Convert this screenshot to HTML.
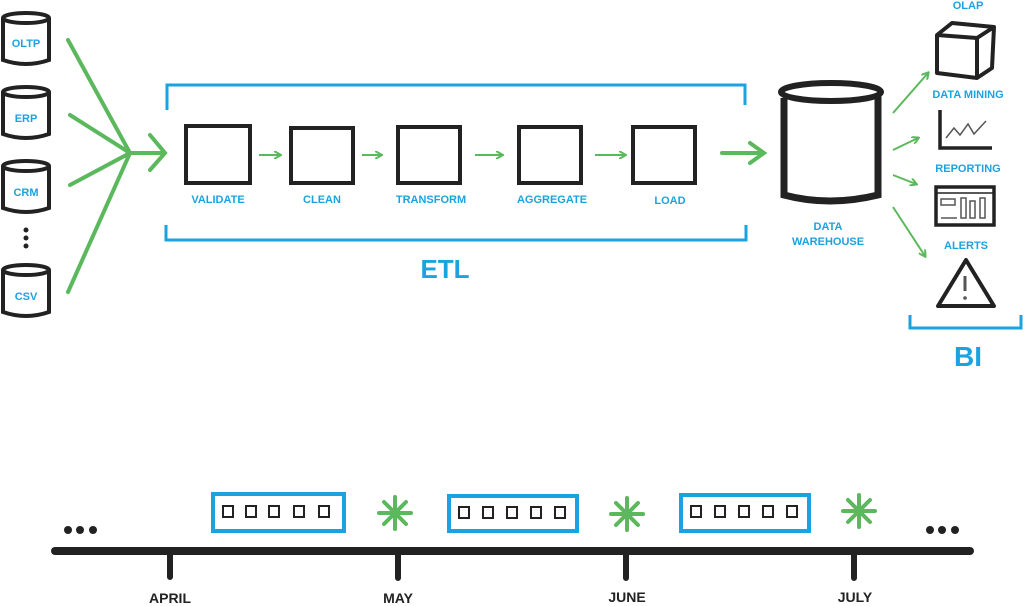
<!DOCTYPE html>
<html><head><meta charset="utf-8"><style>
html,body{margin:0;padding:0;background:#fff;}
svg{display:block}
text{font-family:"Liberation Sans",sans-serif;font-weight:bold;}
.b{fill:#1ba3e0;font-size:11px;text-anchor:middle;}
.k{fill:#222;font-size:14px;text-anchor:middle;}
</style></head><body>
<svg width="1024" height="606" viewBox="0 0 1024 606" xmlns="http://www.w3.org/2000/svg">
<defs>
<g id="cyl"><path d="M3,8 v42 q23,8 46,0 v-42" fill="#fff" stroke="#222" stroke-width="4"/><ellipse cx="26" cy="8" rx="23" ry="5" fill="#fff" stroke="#222" stroke-width="4"/></g>
<marker id="ah" markerWidth="8" markerHeight="8" refX="6" refY="4" orient="auto" markerUnits="userSpaceOnUse"><path d="M0,0 L7,4 L0,8" fill="none" stroke="#5cb85c" stroke-width="2"/></marker>
</defs>
<!-- sources -->
<use href="#cyl" x="0" y="10"/><text class="b" x="26" y="47">OLTP</text>
<use href="#cyl" x="0" y="84"/><text class="b" x="26" y="122">ERP</text>
<use href="#cyl" x="0" y="158"/><text class="b" x="26" y="196">CRM</text>
<circle cx="26" cy="230" r="2.5" fill="#222"/><circle cx="26" cy="238" r="2.5" fill="#222"/><circle cx="26" cy="246" r="2.5" fill="#222"/>
<use href="#cyl" x="0" y="262"/><text class="b" x="26" y="300">CSV</text>
<g stroke="#5cb85c" stroke-width="4" fill="none" stroke-linecap="round">
<path d="M68,40 L130,153 M70,115 L130,153 M70,185 L130,153 M68,292 L130,153 M130,153 H163 M150,135 L165,153 L150,170"/>
<path d="M722,153 H762 M750,143 L764,153 L750,163"/>
</g>
<!-- ETL bracket -->
<g stroke="#1ba3e0" stroke-width="3" fill="none">
<path d="M167,110 V85 H745 V105"/>
<path d="M166,225 V240 H746 V225"/>
</g>
<text x="445" y="278" style="fill:#1ba3e0;font-size:26px;text-anchor:middle">ETL</text>
<g stroke="#222" stroke-width="4" fill="none">
<rect x="186" y="126" width="64" height="57"/>
<rect x="291" y="128" width="62" height="55"/>
<rect x="398" y="127" width="62" height="56"/>
<rect x="519" y="127" width="62" height="56"/>
<rect x="633" y="127" width="62" height="56"/>
</g>
<g stroke="#5cb85c" stroke-width="2" fill="none" marker-end="url(#ah)">
<path d="M259,155 H280"/><path d="M362,155 H381"/><path d="M475,155 H502"/><path d="M595,155 H625"/>
</g>
<text class="b" x="218" y="203">VALIDATE</text>
<text class="b" x="322" y="203">CLEAN</text>
<text class="b" x="431" y="203">TRANSFORM</text>
<text class="b" x="552" y="203">AGGREGATE</text>
<text class="b" x="670" y="204">LOAD</text>
<!-- DW -->
<path d="M784,98 V195 q45,12 94,0 V95" fill="#fff" stroke="#222" stroke-width="7"/>
<ellipse cx="831" cy="92" rx="50" ry="9" fill="#fff" stroke="#222" stroke-width="6"/>
<text class="b" x="828" y="230">DATA</text>
<text class="b" x="828" y="245">WAREHOUSE</text>
<g stroke="#5cb85c" stroke-width="2" fill="none" marker-end="url(#ah)">
<path d="M893,113 L928,73"/><path d="M893,150 L918,138"/><path d="M893,175 L916,184"/><path d="M893,207 L925,256"/>
</g>
<!-- BI -->
<text class="b" x="968" y="9">OLAP</text>
<g stroke="#222" stroke-width="4" fill="#fff" stroke-linejoin="round">
<path d="M937,35 L952,23 L994,27 L992,68 L977,78 L937,73 Z M937,35 L977,38 L994,27 M977,38 L977,78"/>
</g>
<text class="b" x="968" y="98">DATA MINING</text>
<path d="M940,110 V148 H992" stroke="#222" stroke-width="3.5" fill="none"/>
<path d="M946,138 L954,128 L960,135 L968,124 L974,134 L986,121" stroke="#555" stroke-width="1.5" fill="none"/>
<text class="b" x="968" y="172">REPORTING</text>
<rect x="936" y="187" width="58" height="38" fill="#fff" stroke="#222" stroke-width="3.5"/>
<path d="M936,193 H994" stroke="#222" stroke-width="1.5"/>
<g stroke="#555" stroke-width="1.5" fill="none"><rect x="941" y="199" width="14" height="6"/><rect x="961" y="198" width="5" height="20"/><rect x="970" y="201" width="5" height="17"/><rect x="980" y="198" width="5" height="20"/><path d="M941,218 H957"/></g>
<text class="b" x="966" y="249">ALERTS</text>
<path d="M966,260 L994,306 H938 Z" fill="#fff" stroke="#222" stroke-width="4" stroke-linejoin="round"/>
<path d="M965,276 V291" stroke="#555" stroke-width="3"/><circle cx="965" cy="298" r="1.8" fill="#555"/>
<path d="M910,315 V328 H1021 V315" stroke="#1ba3e0" stroke-width="3" fill="none"/>
<text x="968" y="366" style="fill:#1ba3e0;font-size:28px;text-anchor:middle">BI</text>
<!-- timeline -->
<path d="M55,551 H970" stroke="#222" stroke-width="8" stroke-linecap="round"/>
<g stroke="#222" stroke-width="6" stroke-linecap="round"><path d="M170,553 V577 M398,553 V578 M626,553 V578 M854,553 V578"/></g>
<text class="k" x="170" y="603">APRIL</text><text class="k" x="398" y="603">MAY</text><text class="k" x="627" y="602">JUNE</text><text class="k" x="855" y="602">JULY</text>
<g fill="#222"><circle cx="68" cy="530" r="4"/><circle cx="80" cy="530" r="4"/><circle cx="93" cy="530" r="4"/>
<circle cx="930" cy="530" r="4"/><circle cx="942" cy="530" r="4"/><circle cx="955" cy="530" r="4"/></g>
<g fill="none" stroke="#1ba3e0" stroke-width="4">
<rect x="213" y="494" width="131" height="37"/><rect x="449" y="496" width="128" height="35"/><rect x="681" y="495" width="128" height="36"/>
</g>
<g fill="none" stroke="#222" stroke-width="2">
<rect x="223" y="506" width="10" height="11"/><rect x="246" y="506" width="10" height="11"/><rect x="269" y="506" width="10" height="11"/><rect x="294" y="506" width="10" height="11"/><rect x="319" y="506" width="10" height="11"/>
<rect x="459" y="507" width="10" height="11"/><rect x="483" y="507" width="10" height="11"/><rect x="507" y="507" width="10" height="11"/><rect x="531" y="507" width="10" height="11"/><rect x="555" y="507" width="10" height="11"/>
<rect x="691" y="506" width="10" height="11"/><rect x="715" y="506" width="10" height="11"/><rect x="739" y="506" width="10" height="11"/><rect x="763" y="506" width="10" height="11"/><rect x="787" y="506" width="10" height="11"/>
</g>
<g stroke="#5cb85c" stroke-width="4" stroke-linecap="round">
<g transform="translate(395,513)"><path d="M0,-16 V16 M-16,0 H16 M-11,-11 L11,11 M-11,11 L11,-11"/></g>
<g transform="translate(627,514)"><path d="M0,-16 V16 M-16,0 H16 M-11,-11 L11,11 M-11,11 L11,-11"/></g>
<g transform="translate(859,511)"><path d="M0,-16 V16 M-16,0 H16 M-11,-11 L11,11 M-11,11 L11,-11"/></g>
</g>
</svg>
</body></html>
